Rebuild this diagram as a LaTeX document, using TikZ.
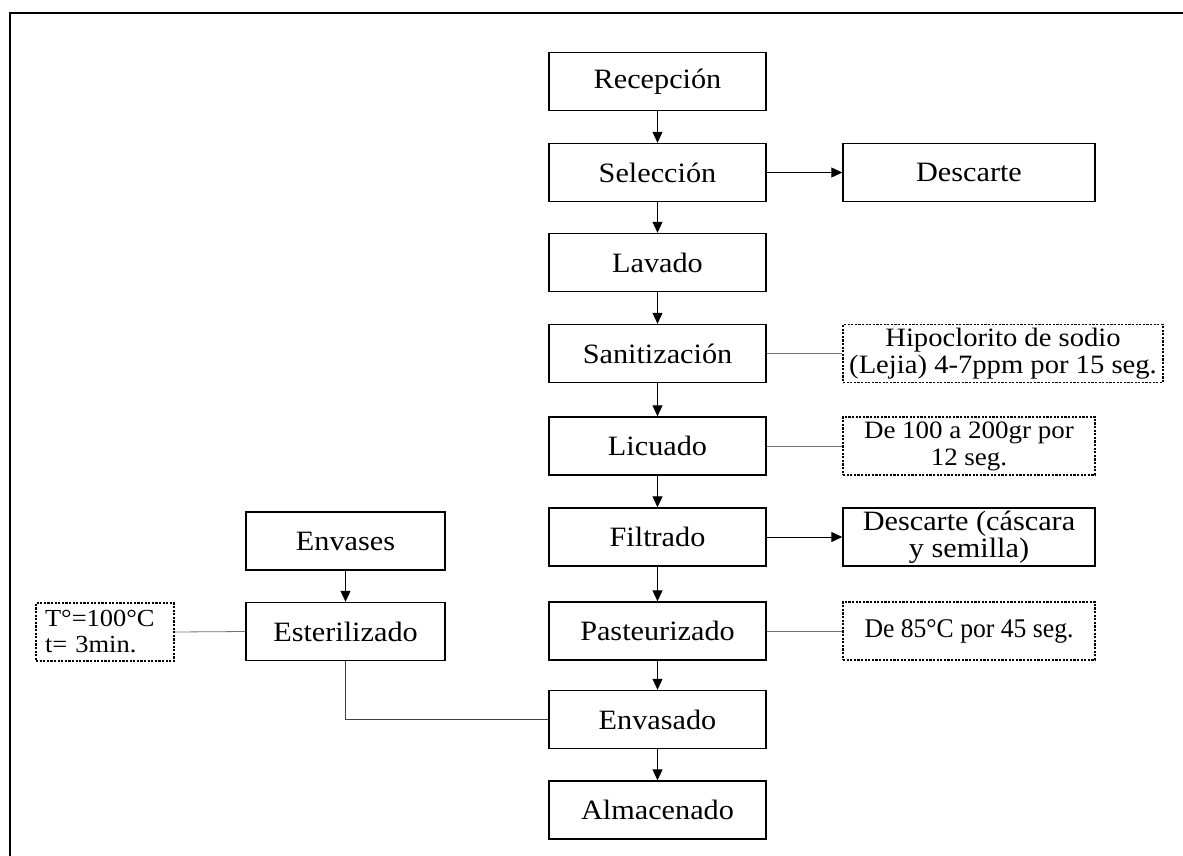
\documentclass[tikz,border=0pt]{standalone}
\usepackage{fontspec}
\setmainfont[FakeStretch=1.08]{Liberation Serif}
\newfontfamily\narrowserif[FakeStretch=0.95]{Liberation Serif}
\usetikzlibrary{arrows.meta}
\begin{document}
\begin{tikzpicture}[x=1pt,y=-1pt,
  every node/.style={font=\fontsize{28}{28}\selectfont, inner sep=2pt},
  proc/.style={draw, line width=1.4pt, minimum height=58pt, align=center},
  note/.style={draw, line width=1.3pt, dash pattern=on 2.2pt off 1.4pt, minimum height=58pt, align=center},
  arr/.style={line width=1pt, -{Triangle[length=11pt,width=10pt]}},
  link/.style={line width=0.8pt, black!55},
  conn/.style={line width=1pt, black!75}
]
\useasboundingbox (0,0) rectangle (1183,855);
\draw[line width=2pt] (10,856) -- (10,12.5) -- (1184,12.5);

% main column
\node[proc, minimum width=217pt] (rec) at (657.5,81.5) {Recepción};
\node[proc, minimum width=217pt] (sel) at (657.5,172.5) {Selección};
\node[proc, minimum width=217pt] (lav) at (657.5,262.5) {Lavado};
\node[proc, minimum width=217pt] (san) at (657.5,353.5) {Sanitización};
\node[proc, minimum width=217pt] (lic) at (657.5,446) {Licuado};
\node[proc, minimum width=217pt] (fil) at (657.5,537) {Filtrado};
\node[proc, minimum width=217pt] (pas) at (657.5,631) {Pasteurizado};
\node[proc, minimum width=217pt] (env) at (657.5,719.5) {Envasado};
\node[proc, minimum width=217pt] (alm) at (657.5,810) {Almacenado};

% right column
\node[proc, minimum width=252pt] (des) at (969,172.5) {Descarte};
\node[note, minimum width=320pt, font=\fontsize{26.5}{27}\selectfont] (hip) at (1003,353.5) {Hipoclorito de sodio\\(Lejia) 4-7ppm por 15 seg.};
\node[note, minimum width=252pt, font=\fontsize{25}{27}\selectfont] (dcien) at (969,446) {De 100 a 200gr por\\12 seg.};
\node[proc, minimum width=252pt] (desc) at (969,537) {Descarte (cáscara\\[-1pt]y semilla)};
\node[note, minimum width=252pt, font=\narrowserif\fontsize{27}{27}\selectfont] (docho) at (969,631) {De 85°C por 45 seg.};

% left column
\node[proc, minimum width=199pt] (envs) at (345.5,541) {Envases};
\node[proc, minimum width=199pt] (est) at (345.5,631.5) {Esterilizado};
\node[note, text width=120pt, inner xsep=9pt, align=left, font=\fontsize{24.5}{26}\selectfont] (temp) at (105,632) {T°=100°C\\t= 3min.};

% arrows
\draw[arr] (rec) -- (sel);
\draw[arr] (sel) -- (lav);
\draw[arr] (lav) -- (san);
\draw[arr] (san) -- (lic);
\draw[arr] (lic) -- (fil);
\draw[arr] (fil) -- (pas);
\draw[arr] (pas) -- (env);
\draw[arr] (env) -- (alm);
\draw[arr] (sel) -- (des);
\draw[arr] (fil) -- (desc);
\draw[arr] (envs) -- (est);

% links
\draw[link] (san.east) -- (hip.west);
\draw[link] (lic.east) -- (dcien.west);
\draw[link] (pas.east) -- (docho.west);
\draw[link] (est.west) -- (temp.east);
\draw[conn] (est.south) |- (env.west);
\end{tikzpicture}
\end{document}
